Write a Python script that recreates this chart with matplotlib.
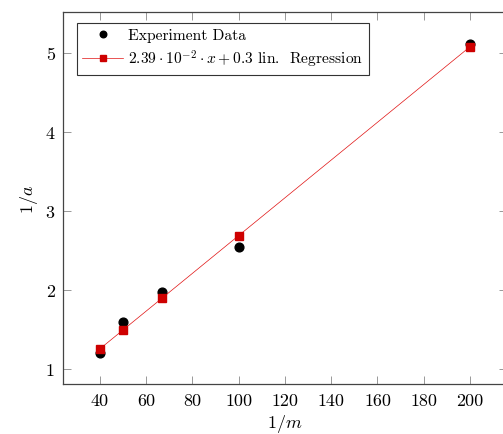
import matplotlib
matplotlib.use("Agg")
import matplotlib.pyplot as plt

plt.rcParams['font.family'] = 'serif'
plt.rcParams['font.serif'] = ['cmr10', 'DejaVu Serif']
plt.rcParams['mathtext.fontset'] = 'cm'
plt.rcParams['axes.unicode_minus'] = False

x_data = [40, 50, 66.67, 100, 200]
y_exp = [1.20, 1.59, 1.97, 2.55, 5.12]
y_reg = [1.256, 1.495, 1.893, 2.69, 5.08]
x_ticks = [40, 60, 80, 100, 120, 140, 160, 180, 200]
y_ticks = [1, 2, 3, 4, 5]

W, H = 503, 435
fig = plt.figure(figsize=(W/100, H/100), dpi=100)
ax = fig.add_axes([63/W, (H-385)/H, 444/W, 372/H])

ax.plot(x_data, y_exp, 'o', color='black', markersize=6.3, label='Experiment Data', zorder=3)
ax.plot(x_data, y_reg, '-s', color='#e01010', markersize=6.3, linewidth=0.5,
        markeredgecolor='#cc0000', markerfacecolor='#d00000',
        label=r'$2.39\cdot10^{-2}\cdot x+0.3$ lin.  Regression', zorder=4)

ax.set_xlim(24, 216)
ax.set_ylim(0.81, 5.52)
ax.set_xticks(x_ticks)
ax.set_yticks(y_ticks)
ax.tick_params(direction='in', length=6, width=0.6, color='#888888',
               top=True, right=True, labelsize=13, pad=6)
for s in ax.spines.values():
    s.set_linewidth(0.9)
    s.set_color('#444444')

ax.set_xlabel(r'$1/m$', fontsize=13, labelpad=3)
ax.set_ylabel(r'$1/a$', fontsize=13, labelpad=4)

leg = ax.legend(loc='upper left', bbox_to_anchor=(14/444, 1-11/372), fontsize=11.2,
                frameon=True, fancybox=False, edgecolor='#333333', framealpha=1,
                borderpad=0.35, handlelength=2.6, handletextpad=0.35, labelspacing=0.35,
                borderaxespad=0, markerscale=0.75)
leg.get_frame().set_linewidth(0.8)

fig.savefig('out.png', dpi=100)
